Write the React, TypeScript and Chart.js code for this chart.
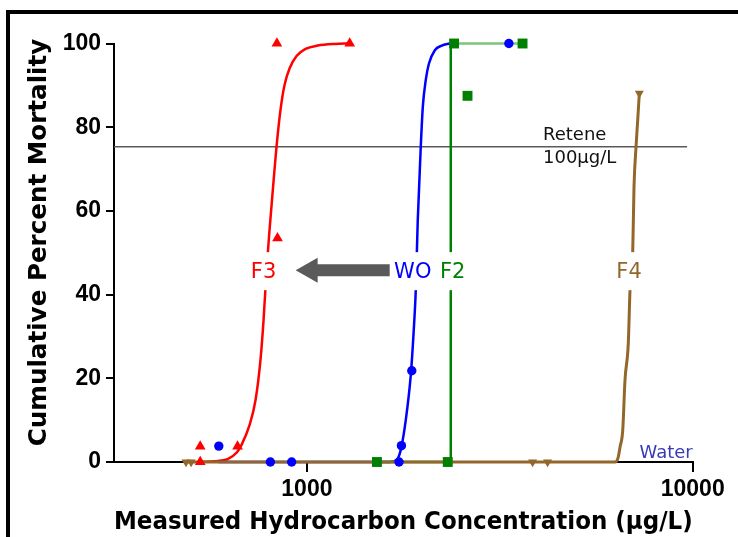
import React, { useEffect, useRef } from "react";
import { Chart, registerables } from "chart.js";

Chart.register(...registerables);

// ---- axis ticks ----
const xTickValues = [1000, 10000];
const xMin = 316.2;
const xMax = 10000;
const yMin = 0;
const yMax = 100;
const yStep = 20;

// ---- F3 (red triangles) ----
const f3X = [529, 529, 661, 839, 836, 1291];
const f3Y = [3.7, 0, 3.7, 53.5, 100, 100];
const f3CurveX = [527, 576, 623, 657, 677, 710, 736, 758, 772, 786, 800, 820, 834, 854, 875, 902, 940, 992, 1066, 1180, 1291];
const f3CurveY = [0, 0.2, 0.7, 2.2, 4.1, 8.8, 14.8, 24.4, 33.9, 45.9, 55.4, 67.4, 75.3, 84.1, 90.1, 94.1, 97.0, 98.7, 99.5, 99.9, 100];

// ---- WO (blue circles) ----
const woX = [591, 804, 913, 1733, 1758, 1870, 3338];
const woY = [3.8, 0, 0, 0, 3.9, 21.8, 100];
const woCurveX = [590, 1639, 1709, 1751, 1804, 1859, 1892, 1915, 1938, 1973, 1997, 2033, 2070, 2146, 2237, 2346];
const woCurveY = [0, 0, 0.5, 2.9, 10.0, 20.8, 31.5, 41.1, 57.8, 75.3, 84.8, 91.3, 95.1, 98.4, 99.5, 100];

// ---- F2 (green squares) ----
const f2X = [1519, 2318, 2407, 2608, 3622];
const f2Y = [0, 0, 100, 87.5, 100];
const f2CurveX = [1519, 2360, 2360, 3622];
const f2CurveY = [0, 0, 100, 100];

// ---- F4 (brown inverted triangles) ----
const f4X = [486, 501, 3846, 4206, 7272];
const f4Y = [0, 0, 0, 0, 88.1];
const f4CurveX = [482, 6291, 6405, 6482, 6587, 6676, 6809, 6879, 6990, 7045, 7130, 7202, 7272];
const f4CurveY = [0, 0, 1.0, 3.6, 7.6, 19.6, 28.4, 41.1, 49.9, 65.8, 75.3, 81.7, 88.1];

// ---- Retene reference line ----
const reteneX = [316.2, 9671];
const reteneY = [75.3, 75.3];

// ---- labels ----
const seriesLabels = ["F3", "WO", "F2", "F4"];
const seriesLabelX = [772, 1881, 2388, 6839];
const seriesLabelY = 45.6;
const arrowFromX = 1639;
const arrowToX = 935;
const reteneLabelLines = ["Retene", "100\u00b5g/L"];
const reteneLabelX = 4092;
const reteneLabelY = [76.9, 71.4];
const waterLabel = "Water";
const xTitle = "Measured Hydrocarbon Concentration (\u00b5g/L)";
const yTitle = "Cumulative Percent Mortality";

const RED = "#ff0000";
const BLUE = "#0000ff";
const GREEN = "#008000";
const BROWN = "#93672a";

const pts = (xs: number[], ys: number[]) => xs.map((x, i) => ({ x, y: ys[i] }));

const annotPlugin = {
  id: "annot",
  afterDatasetsDraw(chart: any) {
    const ctx: CanvasRenderingContext2D = chart.ctx;
    const xs = chart.scales.x;
    const ys = chart.scales.y;
    ctx.save();
    // series labels with white boxes
    const colors = [RED, BLUE, GREEN, BROWN];
    ctx.font = '21px "DejaVu Sans"';
    ctx.textAlign = "center";
    ctx.textBaseline = "middle";
    seriesLabels.forEach((t, i) => {
      const px = xs.getPixelForValue(seriesLabelX[i]);
      const py = ys.getPixelForValue(seriesLabelY);
      const w = ctx.measureText(t).width + 6;
      ctx.fillStyle = "#ffffff";
      ctx.fillRect(px - w / 2, py - 19, w, 38);
      ctx.fillStyle = colors[i];
      ctx.fillText(t, px, py + 1);
    });
    // arrow
    const ay = ys.getPixelForValue(seriesLabelY) - 1;
    const ax0 = xs.getPixelForValue(arrowFromX);
    const ax1 = xs.getPixelForValue(arrowToX);
    ctx.fillStyle = "#5a5a5a";
    ctx.beginPath();
    ctx.moveTo(ax1, ay);
    ctx.lineTo(ax1 + 22, ay - 12.5);
    ctx.lineTo(ax1 + 22, ay - 6);
    ctx.lineTo(ax0, ay - 6);
    ctx.lineTo(ax0, ay + 6);
    ctx.lineTo(ax1 + 22, ay + 6);
    ctx.lineTo(ax1 + 22, ay + 12.5);
    ctx.closePath();
    ctx.fill();
    // Retene text
    ctx.font = '18px "DejaVu Sans"';
    ctx.textAlign = "left";
    ctx.textBaseline = "alphabetic";
    ctx.fillStyle = "#111111";
    reteneLabelLines.forEach((t, i) => {
      ctx.fillText(t, xs.getPixelForValue(reteneLabelX), ys.getPixelForValue(reteneLabelY[i]));
    });
    // Water
    ctx.fillStyle = "#3a3ab8";
    ctx.textAlign = "right";
    ctx.fillText(waterLabel, xs.getPixelForValue(xMax), ys.getPixelForValue(1.0));
    // y title
    ctx.fillStyle = "#000000";
    ctx.font = 'bold 24.6px "DejaVu Sans"';
    ctx.translate(45.5, 242.5);
    ctx.rotate(-Math.PI / 2);
    ctx.textAlign = "center";
    ctx.fillText(yTitle, 0, 0);
    ctx.restore();
  },
  afterDraw(chart: any) {
    const ctx: CanvasRenderingContext2D = chart.ctx;
    ctx.save();
    ctx.strokeStyle = "#000";
    ctx.lineWidth = 4;
    ctx.beginPath();
    ctx.moveTo(8, 600);
    ctx.lineTo(8, 12);
    ctx.lineTo(800, 12);
    ctx.stroke();
    ctx.restore();
  },
};

export default function App() {
  const ref = useRef<HTMLCanvasElement | null>(null);
  useEffect(() => {
    if (!ref.current) return;
    const scatterCommon = { showLine: false, borderWidth: 0, clip: false as any };
    const chart = new Chart(ref.current, {
      type: "scatter",
      data: {
        datasets: [
          { ...scatterCommon, label: "F3", data: pts(f3X, f3Y), pointStyle: "triangle", pointRadius: 6.2, backgroundColor: RED, borderColor: RED },
          { ...scatterCommon, label: "WO", data: pts(woX, woY), pointStyle: "circle", pointRadius: 4.7, backgroundColor: BLUE, borderColor: BLUE },
          { ...scatterCommon, label: "F2", data: pts(f2X, f2Y), pointStyle: "rect", pointRadius: 7, backgroundColor: GREEN, borderColor: GREEN },
          { ...scatterCommon, label: "F4", data: pts(f4X, f4Y), pointStyle: "triangle", rotation: 180, pointRadius: 5.2, backgroundColor: BROWN, borderColor: BROWN },
          { label: "F4 fit", data: pts(f4CurveX, f4CurveY), showLine: true, pointRadius: 0, borderColor: BROWN, borderWidth: 3, cubicInterpolationMode: "monotone", clip: false as any },
          { label: "F2 fit", data: pts(f2CurveX, f2CurveY), showLine: true, pointRadius: 0, borderColor: GREEN, borderWidth: 2.5, tension: 0, clip: false as any,
            segment: { borderColor: (c: any) => (c.p0.parsed.y === 100 && c.p1.parsed.y === 100 ? "#7cc47c" : undefined) } },
          { label: "WO fit", data: pts(woCurveX, woCurveY), showLine: true, pointRadius: 0, borderColor: BLUE, borderWidth: 2.5, cubicInterpolationMode: "monotone", clip: false as any },
          { label: "F3 fit", data: pts(f3CurveX, f3CurveY), showLine: true, pointRadius: 0, borderColor: RED, borderWidth: 2.5, cubicInterpolationMode: "monotone", clip: false as any },
          { label: "Retene", data: pts(reteneX, reteneY), showLine: true, pointRadius: 0, borderColor: "#5a5a5a", borderWidth: 1.5, clip: false as any },
        ],
      },
      options: {
        responsive: false,
        animation: false,
        devicePixelRatio: 1,
        layout: { padding: { left: 0, top: 43.5, right: 45.3, bottom: 0 } },
        plugins: { legend: { display: false }, tooltip: { enabled: false } },
        scales: {
          x: {
            type: "logarithmic",
            min: xMin,
            max: xMax,
            afterBuildTicks: (s: any) => {
              s.ticks = xTickValues.map((v) => ({ value: v }));
            },
            afterFit: (s: any) => {
              s.height = 75;
            },
            ticks: {
              autoSkip: false,
              maxRotation: 0,
              padding: 4,
              color: "#000",
              font: { family: "Liberation Sans", weight: "bold", size: 23 },
              callback: (v: any) => String(v),
            },
            grid: { display: true, drawOnChartArea: false, drawTicks: true, tickLength: 10, color: "#000", lineWidth: 2 },
            border: { display: true, color: "#000", width: 2 },
            title: {
              display: true,
              text: xTitle,
              color: "#000",
              font: { family: "DejaVu Sans", weight: "bold", size: 24 },
              padding: { top: 0, bottom: 0 },
            },
          },
          y: {
            type: "linear",
            min: yMin,
            max: yMax,
            afterFit: (s: any) => {
              s.width = 114;
            },
            ticks: {
              stepSize: yStep,
              padding: 5,
              color: "#000",
              font: { family: "Liberation Sans", weight: "bold", size: 23 },
            },
            grid: { display: true, drawOnChartArea: false, drawTicks: true, tickLength: 8, color: "#000", lineWidth: 2 },
            border: { display: true, color: "#000", width: 2 },
          },
        },
      },
      plugins: [annotPlugin],
    } as any);
    return () => chart.destroy();
  }, []);
  return (
    <div style={{ position: "absolute", left: 0, top: 0, width: 738, height: 537, background: "#fff" }}>
      <canvas ref={ref} width={738} height={537} style={{ display: "block" }} />
    </div>
  );
}
